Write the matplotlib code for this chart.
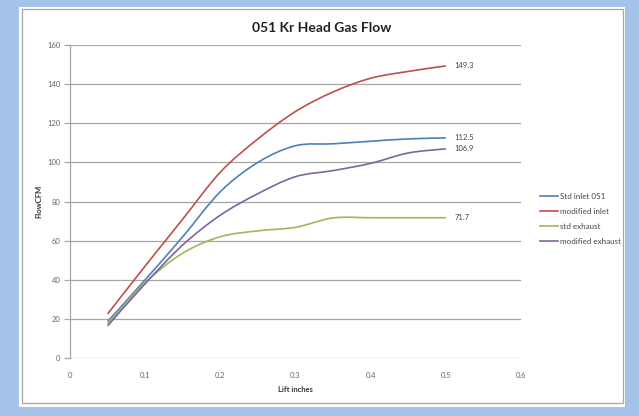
import numpy as np
import matplotlib
matplotlib.use("Agg")
import matplotlib.pyplot as plt
from matplotlib.path import Path
from matplotlib.patches import PathPatch, Rectangle
from matplotlib.lines import Line2D

plt.rcParams['font.family'] = ['Lato', 'DejaVu Sans']

# lift (inches) and flow (CFM)
lift = [0.05, 0.1, 0.15, 0.2, 0.25, 0.3, 0.35, 0.4, 0.45, 0.5]
std_inlet = [18.6, 40.0, 62.0, 85.0, 100.0, 108.5, 109.5, 110.8, 112.0, 112.5]
mod_inlet = [22.5, 47.0, 71.0, 95.0, 112.0, 126.0, 136.0, 143.0, 146.5, 149.3]
std_exhaust = [17.5, 38.5, 53.6, 62.0, 65.0, 66.8, 71.6, 71.7, 71.7, 71.7]
mod_exhaust = [16.4, 38.0, 57.8, 73.0, 84.0, 92.7, 95.8, 99.5, 104.8, 106.9]

names = ["Std inlet 051", "modified inlet", "std exhaust", "modified exhaust"]
colors = ["#4f80b8", "#bd504c", "#9cb95a", "#7f63a0"]
series = [std_inlet, mod_inlet, std_exhaust, mod_exhaust]


def smooth_path(x, y):
    # Excel-like smoothed line: bezier segments through every data point
    pts = np.column_stack([x, y]).astype(float)
    n = len(pts)
    verts = [pts[0]]
    codes = [Path.MOVETO]
    for i in range(n - 1):
        p0 = pts[i - 1] if i > 0 else pts[i]
        p3 = pts[i + 2] if i + 2 < n else pts[i + 1]
        c1 = pts[i] + (pts[i + 1] - p0) / 6.0
        c2 = pts[i + 1] - (p3 - pts[i]) / 6.0
        verts += [c1, c2, pts[i + 1]]
        codes += [Path.CURVE4] * 3
    return Path(verts, codes)


W, H = 639, 416
fig = plt.figure(figsize=(W / 100, H / 100), dpi=100)
fig.patch.set_facecolor("#a4c3e8")
fig.patches.append(Rectangle((19 / W, 1 - 407 / H), 606 / W, 400 / H,
                             transform=fig.transFigure, facecolor="white",
                             edgecolor="none", zorder=-10))
fig.patches.append(Rectangle((22 / W, 1 - 403 / H), 601 / W, 394 / H,
                             transform=fig.transFigure, facecolor="white",
                             edgecolor="#a6a6a6", lw=0.9, zorder=-9))

ax = fig.add_axes([70 / W, 1 - 358 / H, 451 / W, 313 / H])
ax.patch.set_alpha(0)
ax.set_xlim(0, 0.6)
ax.set_ylim(0, 160)
ax.set_xticks(np.arange(0, 0.61, 0.1))
ax.set_xticklabels(["0", "0.1", "0.2", "0.3", "0.4", "0.5", "0.6"])
ax.set_yticks(range(0, 161, 20))
ax.yaxis.grid(True, color="#a6a6a6", lw=0.9)
ax.set_axisbelow(True)
for s in ["top", "right", "bottom"]:
    ax.spines[s].set_visible(False)
ax.spines["left"].set_color("#a6a6a6")
ax.spines["left"].set_linewidth(0.9)
ax.tick_params(axis="y", length=4, width=0.9, color="#a6a6a6",
               labelsize=5.5, labelcolor="#666666", pad=3)
ax.tick_params(axis="x", length=0, labelsize=5.5, labelcolor="#666666", pad=10)

handles = []
for vals, c, nm in zip(series, colors, names):
    ax.add_patch(PathPatch(smooth_path(lift, vals), fill=False,
                           edgecolor=c, lw=1.2, capstyle="butt"))
    ax.annotate("%.1f" % vals[-1], (lift[-1], vals[-1]), xytext=(6, 0),
                textcoords="offset points", va="center", ha="left",
                fontsize=5.5, color="#444444")
    handles.append(Line2D([], [], color=c, lw=1.2))

ax.set_xlabel("Lift inches", fontsize=5.5, fontweight="bold",
              color="#333333", labelpad=5)
ax.set_ylabel("FlowCFM", fontsize=5.5, fontweight="bold",
              color="#333333", labelpad=3)

fig.text(322 / W, 1 - 28 / H, "051 Kr Head Gas Flow", ha="center",
         va="center", fontsize=10, fontweight="bold", color="#222222")

fig.legend(handles, names, loc="center left",
           bbox_to_anchor=(533 / W, 1 - 219 / H), frameon=False,
           fontsize=5.8, handlelength=2.2, handletextpad=0.2,
           labelspacing=1.0, labelcolor="#444444")

fig.savefig("out.png", dpi=100, facecolor=fig.get_facecolor())
